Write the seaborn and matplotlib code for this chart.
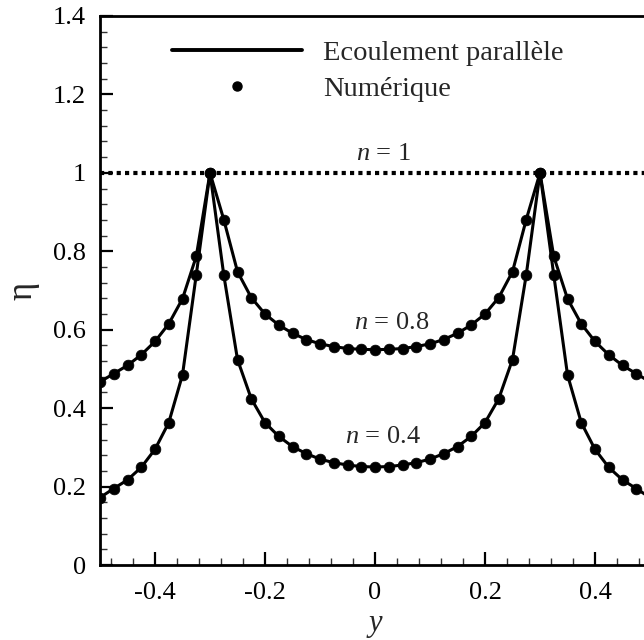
import matplotlib
matplotlib.use("Agg")
import matplotlib.pyplot as plt
from matplotlib.ticker import MultipleLocator, FuncFormatter
from matplotlib.lines import Line2D
import numpy as np
import pandas as pd
import seaborn as sns

# Transverse coordinate y across the channel
y_pos = [-0.5, -0.475, -0.45, -0.425, -0.4, -0.375, -0.35, -0.325, -0.3, -0.275,
         -0.25, -0.225, -0.2, -0.175, -0.15, -0.125, -0.1, -0.075, -0.05, -0.025,
         0.0, 0.025, 0.05, 0.075, 0.1, 0.125, 0.15, 0.175, 0.2, 0.225,
         0.25, 0.275, 0.3, 0.325, 0.35, 0.375, 0.4, 0.425, 0.45, 0.475, 0.5]

# Viscosity profile, power index n = 0.8
eta_n08 = [0.467, 0.488, 0.509, 0.536, 0.570, 0.615, 0.679, 0.787, 1.000, 0.881,
           0.748, 0.682, 0.640, 0.612, 0.591, 0.575, 0.564, 0.557, 0.552, 0.550,
           0.549, 0.550, 0.552, 0.557, 0.564, 0.575, 0.591, 0.612, 0.640, 0.682,
           0.748, 0.881, 1.000, 0.787, 0.679, 0.615, 0.570, 0.536, 0.509, 0.488, 0.467]

# Viscosity profile, power index n = 0.4
eta_n04 = [0.172, 0.195, 0.217, 0.249, 0.295, 0.363, 0.485, 0.740, 1.000, 0.740,
           0.524, 0.424, 0.363, 0.328, 0.302, 0.284, 0.270, 0.261, 0.255, 0.251,
           0.250, 0.251, 0.255, 0.261, 0.270, 0.284, 0.302, 0.328, 0.363, 0.424,
           0.524, 0.740, 1.000, 0.740, 0.485, 0.363, 0.295, 0.249, 0.217, 0.195, 0.172]

# Newtonian case n = 1
eta_newtonian = 1.0

curve_labels = ["$n$ = 1", "$n$ = 0.8", "$n$ = 0.4"]
legend_labels = ["Ecoulement parallèle", "Numérique"]
x_ticks = [-0.4, -0.2, 0.0, 0.2, 0.4]
y_ticks = [0, 0.2, 0.4, 0.6, 0.8, 1.0, 1.2, 1.4]

sns.set_theme(style="ticks")
plt.rcParams["font.family"] = ["Liberation Serif", "DejaVu Serif"]
plt.rcParams["mathtext.fontset"] = "custom"
plt.rcParams["mathtext.rm"] = "Liberation Serif"
plt.rcParams["mathtext.it"] = "Liberation Serif:italic"

df = pd.concat([
    pd.DataFrame({"y": y_pos, "eta": eta_n08, "case": "n08"}),
    pd.DataFrame({"y": y_pos, "eta": eta_n04, "case": "n04"}),
], ignore_index=True)

fig = plt.figure(figsize=(6.44, 6.40), dpi=100)
# right edge of the frame runs past the figure border
ax = fig.add_axes([100 / 644, 75 / 640, 550 / 644, 549 / 640])

ax.axhline(eta_newtonian, color="black", lw=3.0, ls=(0, (1, 1)), zorder=2)

for case in ["n08", "n04"]:
    sub = df[df["case"] == case]
    sns.lineplot(data=sub, x="y", y="eta", ax=ax, color="black", lw=2.2,
                 sort=False, estimator=None, zorder=3)
    sns.scatterplot(data=sub, x="y", y="eta", ax=ax, color="black", s=60,
                    edgecolor="black", linewidth=0.5, zorder=4)

ax.set_xlim(-0.5, 0.5)
ax.set_ylim(0, 1.4)
ax.set_xticks(x_ticks)
ax.set_yticks(y_ticks)
ax.xaxis.set_minor_locator(MultipleLocator(0.04))
ax.yaxis.set_minor_locator(MultipleLocator(0.04))
fmt = FuncFormatter(lambda v, p: ("%g" % round(v, 3)))
ax.xaxis.set_major_formatter(fmt)
ax.yaxis.set_major_formatter(fmt)

ax.tick_params(which="major", direction="in", length=9.5, width=1.6,
               labelsize=19, pad=10, colors="black")
ax.tick_params(axis="x", which="major", pad=12.5)
ax.tick_params(which="minor", direction="in", length=5, width=1.0, colors="#333333")
ax.tick_params(top=False, right=False, which="both")

for side in ["left", "bottom", "top", "right"]:
    ax.spines[side].set_linewidth(2.0)
    ax.spines[side].set_color("black")

ax.set_xlabel("y", fontsize=22, fontstyle="italic", labelpad=3)
ax.set_ylabel("η", fontsize=25, labelpad=10)

ax.text(0.015, 1.047, curve_labels[0], fontsize=19, ha="center", va="center")
ax.text(0.03, 0.618, curve_labels[1], fontsize=19, ha="center", va="center")
ax.text(0.015, 0.327, curve_labels[2], fontsize=19, ha="center", va="center")

handles = [
    Line2D([], [], color="black", lw=2.8),
    Line2D([], [], color="black", ls="none", marker="o", markersize=6.5),
]
ax.legend(handles, legend_labels, loc="upper left",
          bbox_to_anchor=((172 - 100) / 550, (565 - 40) / 549),
          frameon=False, fontsize=20.5, handlelength=4.55, handletextpad=0.75,
          labelspacing=0.36, borderpad=0, borderaxespad=0, numpoints=1)

fig.savefig("out.png", dpi=100)
